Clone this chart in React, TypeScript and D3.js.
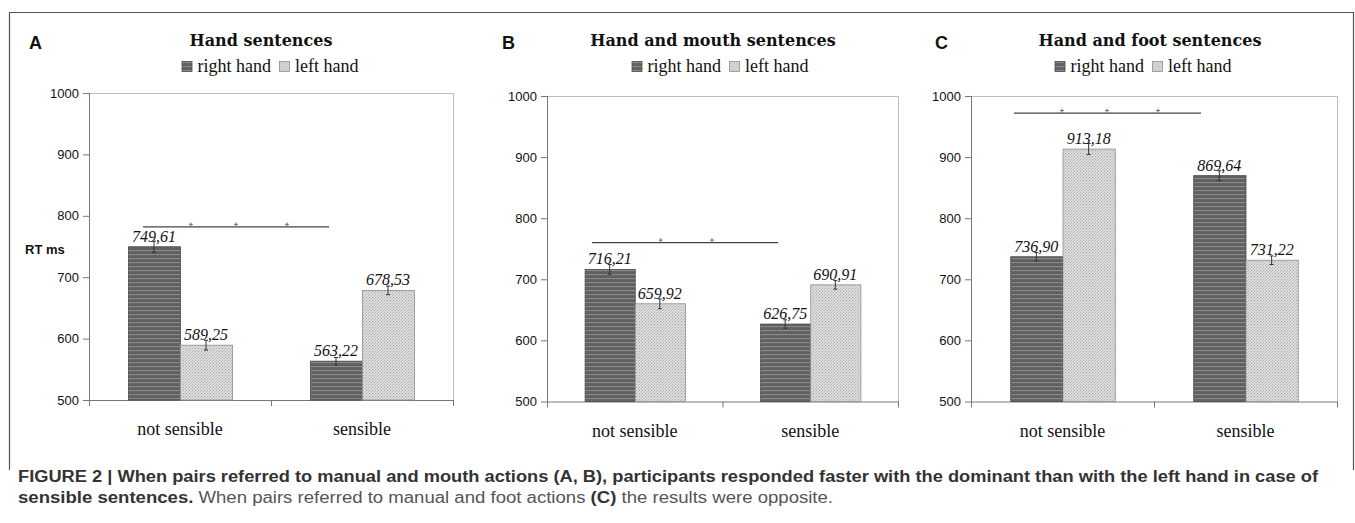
import { useEffect, useRef } from 'react';
import * as d3 from 'd3';

const categories = ['not sensible', 'sensible'];
const seriesNames = ['right hand', 'left hand'];
const panelLetters = ['A', 'B', 'C'];
const panelTitles = ['Hand sentences', 'Hand and mouth sentences', 'Hand and foot sentences'];
const rightHandRT = [[749.61, 563.22], [716.21, 626.75], [736.90, 869.64]];
const leftHandRT = [[589.25, 678.53], [659.92, 690.91], [913.18, 731.22]];
const rightHandErr = [[9, 6], [8, 7], [7, 8]];
const leftHandErr = [[8, 7], [8, 7], [9, 7]];
// significance bracket: value on the y axis, span in category units, "+" marks
const sigLineValue = [782, 760, 972];
const sigLineSpan = [[0.297, 1.319], [0.256, 1.318], [0.235, 1.257]];
const sigMarks = [[0.56, 0.808, 1.088], [0.648, 0.94], [0.497, 0.743, 1.022]];
const yTicks = [500, 600, 700, 800, 900, 1000];
const yDomain = [500, 1000];
const yAxisLabel = 'RT ms';

const panels = [
    { left: 89, right: 453, top: 93, bottom: 400, letterX: 29, titleX: 261, legendX: 270 },
    { left: 547, right: 898, top: 96, bottom: 401.5, letterX: 502, titleX: 713, legendX: 720 },
    { left: 971, right: 1337, top: 96, bottom: 401.5, letterX: 935, titleX: 1150, legendX: 1143 }
];

const fmt = (v: number) => v.toFixed(2).replace('.', ',');

const App = () => {
    const svgRef = useRef<SVGSVGElement>(null);

    useEffect(() => {
        const svg = d3.select(svgRef.current);
        svg.selectAll('*').remove();

        const defs = svg.append('defs');
        const pd = defs.append('pattern').attr('id', 'pat-right')
            .attr('patternUnits', 'userSpaceOnUse').attr('width', 4).attr('height', 4);
        pd.append('rect').attr('width', 4).attr('height', 4).attr('fill', '#5e5e5e');
        pd.append('rect').attr('y', 2).attr('width', 4).attr('height', 1).attr('fill', '#8a8a8a');
        pd.append('rect').attr('x', 1).attr('y', 3).attr('width', 1).attr('height', 1).attr('fill', '#7a7a7a');
        pd.append('rect').attr('x', 3).attr('y', 0).attr('width', 1).attr('height', 1).attr('fill', '#6e6e6e');

        const pl = defs.append('pattern').attr('id', 'pat-left')
            .attr('patternUnits', 'userSpaceOnUse').attr('width', 3).attr('height', 3);
        pl.append('rect').attr('width', 3).attr('height', 3).attr('fill', '#dedede');
        pl.append('rect').attr('x', 0).attr('y', 0).attr('width', 1).attr('height', 1).attr('fill', '#a8a8a8');
        pl.append('rect').attr('x', 2).attr('y', 1).attr('width', 1).attr('height', 1).attr('fill', '#b8b8b8');
        pl.append('rect').attr('x', 1).attr('y', 2).attr('width', 1).attr('height', 1).attr('fill', '#c4c4c4');

        const fills = ['url(#pat-right)', 'url(#pat-left)'];
        const strokes = ['#4a4a4a', '#8e8e8e'];

        // figure frame
        svg.append('path')
            .attr('d', 'M9.5,470 L9.5,12.5 L1353.5,12.5 L1353.5,470')
            .attr('fill', 'none').attr('stroke', '#555').attr('stroke-width', 1.2);

        panels.forEach((p, pi) => {
            const g = svg.append('g');
            const y = d3.scaleLinear().domain(yDomain).range([p.bottom, p.top]);
            const x = d3.scaleBand().domain(categories).range([p.left, p.right]);
            const xs = d3.scaleBand().domain(seriesNames).range([0, x.bandwidth()]).paddingOuter(0.75);
            const xu = d3.scaleLinear().domain([0, categories.length]).range([p.left, p.right]);

            // panel letter
            g.append('text').attr('x', p.letterX).attr('y', 49)
                .attr('font-family', 'Liberation Sans, Arial, sans-serif').attr('font-weight', 'bold')
                .attr('font-size', 18).attr('fill', '#111').text(panelLetters[pi]);

            // title
            g.append('text').attr('x', p.titleX).attr('y', 46).attr('text-anchor', 'middle')
                .attr('font-family', 'DejaVu Serif, serif').attr('font-weight', 'bold')
                .attr('font-size', 16).attr('fill', '#111').text(panelTitles[pi]);

            // legend
            const lg = g.append('g');
            let cx = 0;
            seriesNames.forEach((s, si) => {
                lg.append('rect').attr('x', cx + 0.5).attr('y', 61.5).attr('width', 10).attr('height', 10)
                    .attr('fill', fills[si]).attr('stroke', strokes[si]).attr('stroke-width', 0.8);
                const t = lg.append('text').attr('x', cx + 16).attr('y', 72)
                    .attr('font-family', 'Liberation Serif, Times New Roman, serif')
                    .attr('font-size', 18).attr('fill', '#111').text(s);
                const w = (t.node() as SVGTextElement).getComputedTextLength();
                cx += 16 + w + 8;
            });
            const lw = cx - 8;
            lg.attr('transform', `translate(${p.legendX - lw / 2},0)`);

            // plot frame (top/right light)
            g.append('path')
                .attr('d', `M${p.left},${p.top + 0.5} H${p.right + 0.5} V${p.bottom}`)
                .attr('fill', 'none').attr('stroke', '#bdbdbd').attr('stroke-width', 1);

            // y axis
            g.append('line').attr('x1', p.left + 0.5).attr('x2', p.left + 0.5)
                .attr('y1', p.top).attr('y2', p.bottom).attr('stroke', '#777');
            yTicks.forEach(v => {
                g.append('line').attr('x1', p.left - 6).attr('x2', p.left)
                    .attr('y1', y(v) + 0.5).attr('y2', y(v) + 0.5).attr('stroke', '#777');
                g.append('text').attr('x', p.left - 10).attr('y', y(v)).attr('dy', '0.35em')
                    .attr('text-anchor', 'end').attr('font-family', 'Liberation Sans, Arial, sans-serif')
                    .attr('font-size', 13).attr('fill', '#111').text(v);
            });
            if (pi === 0) {
                g.append('text').attr('x', 25).attr('y', y(745)).attr('dy', '0.35em')
                    .attr('font-family', 'Liberation Sans, Arial, sans-serif').attr('font-weight', 'bold')
                    .attr('font-size', 13).attr('fill', '#111').text(yAxisLabel);
            }

            // x axis
            g.append('line').attr('x1', p.left).attr('x2', p.right + 1)
                .attr('y1', p.bottom + 0.5).attr('y2', p.bottom + 0.5).attr('stroke', '#777');
            d3.range(categories.length + 1).forEach(i => {
                g.append('line').attr('x1', xu(i) + 0.5).attr('x2', xu(i) + 0.5)
                    .attr('y1', p.bottom).attr('y2', p.bottom + 6).attr('stroke', '#777');
            });
            categories.forEach(c => {
                g.append('text').attr('x', x(c)! + x.bandwidth() / 2).attr('y', p.bottom + 35)
                    .attr('text-anchor', 'middle').attr('font-family', 'Liberation Serif, Times New Roman, serif')
                    .attr('font-size', 18).attr('fill', '#111').text(c);
            });

            // bars
            const vals = [rightHandRT[pi], leftHandRT[pi]];
            const errs = [rightHandErr[pi], leftHandErr[pi]];
            categories.forEach((c, ci) => {
                seriesNames.forEach((s, si) => {
                    const v = vals[si][ci];
                    const bx = x(c)! + xs(s)!;
                    const bw = xs.bandwidth();
                    g.append('rect').attr('x', bx + 0.5).attr('y', y(v))
                        .attr('width', bw).attr('height', p.bottom - y(v))
                        .attr('fill', fills[si]).attr('stroke', strokes[si]).attr('stroke-width', 0.8);
                });
            });
            categories.forEach((c, ci) => {
                seriesNames.forEach((s, si) => {
                    const v = vals[si][ci];
                    const e = errs[si][ci];
                    const mx = x(c)! + xs(s)! + xs.bandwidth() / 2;
                    g.append('line').attr('x1', mx).attr('x2', mx)
                        .attr('y1', y(v + e)).attr('y2', y(v - e)).attr('stroke', '#333').attr('stroke-width', 1);
                    [v + e, v - e].forEach(ev => {
                        g.append('line').attr('x1', mx - 2).attr('x2', mx + 2)
                            .attr('y1', y(ev)).attr('y2', y(ev)).attr('stroke', '#333').attr('stroke-width', 1);
                    });
                    g.append('text').attr('x', mx).attr('y', y(v) - 5).attr('text-anchor', 'middle')
                        .attr('font-family', 'Liberation Serif, Times New Roman, serif').attr('font-style', 'italic')
                        .attr('font-size', 16).attr('fill', '#111').text(fmt(v));
                });
            });

            // significance bracket
            const sy = y(sigLineValue[pi]);
            g.append('line').attr('x1', xu(sigLineSpan[pi][0])).attr('x2', xu(sigLineSpan[pi][1]))
                .attr('y1', sy).attr('y2', sy).attr('stroke', '#444').attr('stroke-width', 1.2);
            sigMarks[pi].forEach(m => {
                const mx = xu(m);
                g.append('line').attr('x1', mx - 2).attr('x2', mx + 2).attr('y1', sy - 2.5).attr('y2', sy - 2.5)
                    .attr('stroke', '#555').attr('stroke-width', 0.8);
                g.append('line').attr('x1', mx).attr('x2', mx).attr('y1', sy - 4.5).attr('y2', sy - 0.5)
                    .attr('stroke', '#555').attr('stroke-width', 0.8);
            });
        });

        // caption
        const cap = svg.append('g').attr('font-family', 'Liberation Sans, Arial, sans-serif')
            .attr('font-size', 16);
        cap.append('text').attr('x', 18).attr('y', 482).attr('font-weight', 'bold').attr('fill', '#333')
            .attr('textLength', 1300).attr('lengthAdjust', 'spacingAndGlyphs')
            .text('FIGURE 2 | When pairs referred to manual and mouth actions (A, B), participants responded faster with the dominant than with the left hand in case of');
        const l2 = cap.append('text').attr('x', 18).attr('y', 503)
            .attr('textLength', 815).attr('lengthAdjust', 'spacingAndGlyphs');
        l2.append('tspan').attr('font-weight', 'bold').attr('fill', '#333').text('sensible sentences.');
        l2.append('tspan').attr('fill', '#555').text(' When pairs referred to manual and foot actions ');
        l2.append('tspan').attr('font-weight', 'bold').attr('fill', '#333').text('(C)');
        l2.append('tspan').attr('fill', '#555').text(' the results were opposite.');
    }, []);

    return (
        <svg ref={svgRef} width={1355} height={523}
            style={{ position: 'absolute', left: 0, top: 0, background: '#fff' }} />
    );
};

export default App;
